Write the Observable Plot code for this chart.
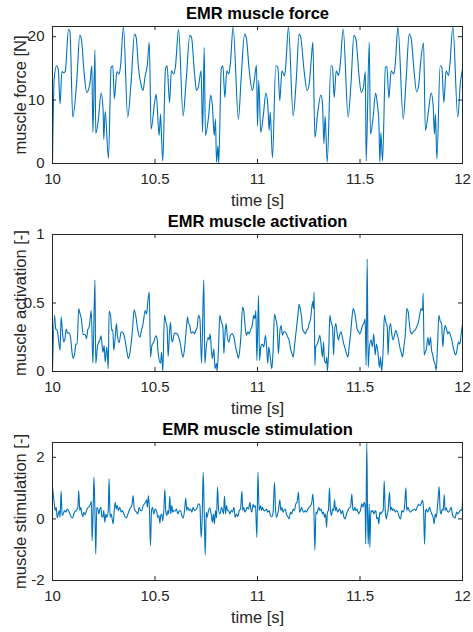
<!DOCTYPE html>
<html>
<head>
<meta charset="utf-8">
<script src="https://cdn.jsdelivr.net/npm/d3@7"></script>
<script src="https://cdn.jsdelivr.net/npm/@observablehq/plot@0.6"></script>
<style>
  body { margin: 0; background: #fff; }
  #chart { width: 473px; }
  #chart svg { display: block; }
</style>
</head>
<body>
<div id="chart"></div>
<script>
// Shared time axis (seconds)
const timeTicks = [10, 10.5, 11, 11.5, 12];
const timeLabel = "time [s]";

// Muscle force [N] — [time, value]
const force = [
  [10.000,0],[10.008,13.3],[10.020,15.4],[10.028,14.9],[10.037,9.4],[10.046,14.5],[10.055,14.3],[10.062,14.5],
  [10.078,21.1],[10.085,20.8],[10.099,7.3],[10.119,13.3],[10.133,20.2],[10.141,19.6],[10.154,14.4],[10.167,11.2],
  [10.182,12.5],[10.192,15.4],[10.197,4.9],[10.207,17.9],[10.211,4.7],[10.224,7.0],[10.237,11.1],[10.247,8.3],
  [10.250,3.8],[10.257,8.2],[10.273,0.8],[10.286,15.2],[10.294,15.4],[10.302,10.2],[10.314,14.5],[10.325,14.1],
  [10.332,15.4],[10.346,21.5],[10.367,7.3],[10.384,13.1],[10.400,20.4],[10.408,19.9],[10.420,14.9],[10.433,12.3],
  [10.441,11.5],[10.452,13.8],[10.462,15.4],[10.472,19.1],[10.481,5.4],[10.498,9.6],[10.506,10.9],[10.520,4.4],
  [10.527,7.8],[10.532,4.1],[10.538,0.4],[10.551,14.9],[10.559,15.4],[10.571,9.6],[10.580,14.6],[10.592,14.1],
  [10.600,15.4],[10.615,21.1],[10.637,7.5],[10.652,13.1],[10.670,20.2],[10.678,19.9],[10.693,14.1],[10.702,11.5],
  [10.711,12.0],[10.725,14.6],[10.732,4.9],[10.740,18.3],[10.746,4.4],[10.761,7.3],[10.772,10.8],[10.780,9.1],
  [10.789,4.4],[10.795,7.0],[10.800,0.2],[10.807,2.8],[10.811,0],[10.823,14.9],[10.831,15.4],[10.841,10.4],
  [10.850,14.6],[10.860,14.1],[10.868,15.9],[10.881,21.5],[10.907,7.0],[10.920,13.3],[10.937,20.4],[10.946,19.7],
  [10.959,14.9],[10.975,11.5],[10.985,13.3],[10.995,15.5],[11.000,5.9],[11.006,13.1],[11.016,4.9],[11.028,7.5],
  [11.041,11.1],[11.050,9.4],[11.057,5.2],[11.062,8.1],[11.073,0.9],[11.089,15.4],[11.099,15.2],[11.109,9.9],
  [11.119,14.6],[11.132,13.8],[11.138,15.5],[11.151,21.5],[11.174,7.5],[11.189,13.1],[11.203,20.4],[11.211,19.9],
  [11.228,14.4],[11.242,11.5],[11.252,12.5],[11.263,16.7],[11.270,19.1],[11.280,4.1],[11.294,8.1],[11.309,10.8],
  [11.317,9.4],[11.324,3.1],[11.330,7.5],[11.340,0.2],[11.358,15.4],[11.366,15.2],[11.374,10.4],[11.384,14.6],
  [11.395,13.9],[11.403,15.4],[11.418,21.2],[11.442,7.3],[11.457,13.1],[11.470,20.2],[11.480,19.6],[11.496,13.6],
  [11.506,11.2],[11.518,12.3],[11.526,14.5],[11.530,0.4],[11.545,19.1],[11.551,4.6],[11.564,7.3],[11.576,11.1],
  [11.584,9.6],[11.592,6.5],[11.597,0.2],[11.602,4.9],[11.610,0.4],[11.624,15.2],[11.631,15.3],[11.641,10.3],
  [11.652,14.6],[11.665,14.1],[11.672,15.7],[11.685,21.5],[11.711,7.0],[11.725,13.3],[11.740,20.4],[11.750,19.6],
  [11.764,14.4],[11.776,11.3],[11.787,12.5],[11.795,15.7],[11.810,19.0],[11.819,5.2],[11.834,8.3],[11.847,11.1],
  [11.857,9.1],[11.863,4.6],[11.868,7.8],[11.875,0.7],[11.891,15.4],[11.899,15.2],[11.909,9.6],[11.920,14.6],
  [11.932,13.9],[11.938,15.4],[11.953,21.6],[11.977,7.3],[11.990,12.8],[12.000,14.9]
];

// Muscle activation [-] — [time, value]
const activation = [
  [10.000,0],[10.010,0.41],[10.016,0.31],[10.023,0.30],[10.033,0.19],[10.037,0.155],[10.042,0.40],[10.049,0.28],
  [10.055,0.215],[10.060,0.23],[10.067,0.31],[10.073,0.28],[10.081,0.28],[10.088,0.25],[10.094,0.155],[10.101,0.095],
  [10.109,0.14],[10.114,0.20],[10.120,0.20],[10.128,0.46],[10.133,0.43],[10.140,0.39],[10.150,0.27],[10.159,0.27],
  [10.166,0.24],[10.172,0.305],[10.179,0.325],[10.189,0.445],[10.197,0.06],[10.207,0.67],[10.211,0.06],[10.220,0.19],
  [10.231,0.23],[10.237,0.26],[10.246,0.14],[10.252,0.19],[10.257,0.07],[10.265,0.18],[10.272,0.02],[10.276,0.44],
  [10.283,0.41],[10.289,0.30],[10.294,0.305],[10.299,0.155],[10.306,0.25],[10.312,0.35],[10.317,0.26],[10.325,0.21],
  [10.335,0.29],[10.345,0.28],[10.354,0.23],[10.364,0.135],[10.371,0.095],[10.379,0.15],[10.390,0.30],[10.398,0.45],
  [10.407,0.40],[10.416,0.30],[10.426,0.25],[10.434,0.30],[10.442,0.35],[10.452,0.445],[10.459,0.42],[10.465,0.51],
  [10.472,0.58],[10.478,0.105],[10.485,0.19],[10.494,0.215],[10.504,0.26],[10.511,0.23],[10.515,0.14],[10.527,0.06],
  [10.532,0.14],[10.538,0.0],[10.546,0.41],[10.553,0.36],[10.559,0.325],[10.564,0.11],[10.571,0.29],[10.576,0.36],
  [10.580,0.25],[10.585,0.215],[10.592,0.265],[10.598,0.28],[10.608,0.275],[10.616,0.25],[10.624,0.20],[10.631,0.135],
  [10.637,0.105],[10.644,0.165],[10.652,0.30],[10.659,0.40],[10.662,0.36],[10.670,0.335],[10.676,0.28],[10.686,0.29],
  [10.693,0.275],[10.699,0.30],[10.706,0.325],[10.712,0.41],[10.719,0.385],[10.727,0.06],[10.738,0.67],[10.743,0.06],
  [10.750,0.18],[10.759,0.25],[10.764,0.23],[10.769,0.275],[10.776,0.14],[10.780,0.095],[10.787,0.165],[10.793,0.02],
  [10.800,0.06],[10.803,0.0],[10.810,0.18],[10.816,0.41],[10.824,0.36],[10.831,0.33],[10.836,0.13],[10.842,0.29],
  [10.847,0.35],[10.852,0.265],[10.860,0.215],[10.868,0.265],[10.876,0.275],[10.885,0.25],[10.893,0.18],[10.901,0.13],
  [10.907,0.095],[10.914,0.165],[10.920,0.28],[10.927,0.47],[10.933,0.445],[10.940,0.325],[10.946,0.265],[10.953,0.29],
  [10.959,0.275],[10.966,0.305],[10.974,0.335],[10.982,0.41],[10.987,0.385],[10.992,0.445],[10.997,0.08],[11.005,0.555],
  [11.010,0.08],[11.016,0.18],[11.024,0.20],[11.031,0.18],[11.039,0.265],[11.046,0.14],[11.050,0.06],[11.055,0.18],
  [11.063,0.095],[11.070,0.02],[11.076,0.155],[11.083,0.42],[11.089,0.385],[11.096,0.33],[11.102,0.13],[11.109,0.29],
  [11.115,0.335],[11.122,0.265],[11.128,0.29],[11.135,0.29],[11.141,0.275],[11.148,0.25],[11.154,0.23],[11.161,0.165],
  [11.168,0.13],[11.174,0.105],[11.180,0.18],[11.189,0.30],[11.197,0.41],[11.203,0.49],[11.210,0.445],[11.215,0.40],
  [11.220,0.31],[11.226,0.29],[11.233,0.275],[11.239,0.30],[11.246,0.31],[11.252,0.35],[11.259,0.385],[11.265,0.47],
  [11.270,0.51],[11.273,0.46],[11.276,0.58],[11.280,0.045],[11.284,0.18],[11.291,0.20],[11.298,0.23],[11.304,0.265],
  [11.311,0.18],[11.317,0.105],[11.322,0.215],[11.327,0.08],[11.333,0.06],[11.338,0.105],[11.341,0.0],[11.348,0.18],
  [11.353,0.41],[11.359,0.36],[11.366,0.325],[11.371,0.12],[11.376,0.29],[11.382,0.35],[11.389,0.275],[11.395,0.23],
  [11.402,0.275],[11.408,0.29],[11.414,0.25],[11.421,0.20],[11.428,0.165],[11.434,0.13],[11.441,0.105],[11.447,0.18],
  [11.454,0.275],[11.462,0.41],[11.467,0.46],[11.473,0.435],[11.480,0.375],[11.486,0.31],[11.493,0.29],[11.499,0.275],
  [11.506,0.30],[11.512,0.335],[11.519,0.35],[11.525,0.385],[11.530,0.045],[11.535,0.82],[11.540,0.03],[11.546,0.18],
  [11.554,0.23],[11.561,0.18],[11.567,0.275],[11.574,0.12],[11.580,0.20],[11.588,0.13],[11.595,0.03],[11.600,0.105],
  [11.606,0.0],[11.613,0.165],[11.619,0.41],[11.626,0.36],[11.633,0.325],[11.637,0.12],[11.642,0.29],[11.649,0.35],
  [11.655,0.275],[11.662,0.23],[11.668,0.265],[11.675,0.30],[11.681,0.275],[11.688,0.23],[11.694,0.18],[11.701,0.14],
  [11.707,0.105],[11.714,0.18],[11.722,0.29],[11.728,0.46],[11.735,0.435],[11.741,0.35],[11.746,0.29],[11.753,0.275],
  [11.759,0.29],[11.766,0.30],[11.772,0.31],[11.779,0.335],[11.785,0.36],[11.792,0.42],[11.798,0.46],[11.805,0.445],
  [11.808,0.57],[11.813,0.12],[11.818,0.14],[11.824,0.165],[11.831,0.25],[11.837,0.19],[11.844,0.25],[11.849,0.155],
  [11.855,0.12],[11.860,0.08],[11.865,0.06],[11.872,0.01],[11.878,0.18],[11.885,0.41],[11.891,0.37],[11.898,0.35],
  [11.904,0.18],[11.909,0.275],[11.915,0.335],[11.922,0.31],[11.928,0.275],[11.935,0.29],[11.941,0.265],[11.948,0.23],
  [11.954,0.18],[11.961,0.14],[11.967,0.12],[11.974,0.165],[11.980,0.215],[11.987,0.20],[11.993,0.265],[12.000,0.35]
];

// Muscle stimulation [-] — [time, value]
const stimulation = [
  [10.000,1.05],[10.008,0.54],[10.013,0.27],[10.018,0.38],[10.023,0.03],[10.028,0.16],[10.033,0.27],[10.037,0.05],
  [10.042,0.90],[10.047,0.11],[10.052,0.16],[10.059,0.27],[10.065,0.22],[10.072,0.32],[10.078,0.27],[10.085,0.16],
  [10.091,0.07],[10.098,0.03],[10.104,0.16],[10.111,0.25],[10.117,0.27],[10.124,0.40],[10.128,0.92],[10.133,0.27],
  [10.138,0.38],[10.143,0.16],[10.148,0.07],[10.153,0.22],[10.159,0.14],[10.166,0.27],[10.172,0.36],[10.179,0.40],
  [10.185,0.47],[10.190,0.57],[10.193,-0.71],[10.198,0.22],[10.202,1.36],[10.207,0.27],[10.211,-1.14],[10.216,0.38],
  [10.221,0.32],[10.226,0.16],[10.231,0.32],[10.236,0.38],[10.241,0.05],[10.246,0.07],[10.250,0.27],[10.255,-0.11],
  [10.260,0.16],[10.265,0.05],[10.272,0.27],[10.276,1.30],[10.281,0.05],[10.286,0.16],[10.291,0.0],[10.296,-0.16],
  [10.301,0.27],[10.306,0.54],[10.311,0.32],[10.315,0.43],[10.322,0.27],[10.328,0.38],[10.335,0.22],[10.341,0.27],
  [10.348,0.16],[10.354,0.07],[10.361,0.03],[10.367,0.14],[10.374,0.27],[10.380,0.36],[10.387,0.43],[10.393,0.76],
  [10.398,0.38],[10.403,0.27],[10.410,0.22],[10.416,0.16],[10.423,0.38],[10.429,0.27],[10.436,0.27],[10.442,0.43],
  [10.449,0.49],[10.454,0.54],[10.459,0.62],[10.463,0.38],[10.468,0.76],[10.473,0.27],[10.478,-0.87],[10.483,0.27],
  [10.488,0.38],[10.494,0.16],[10.501,0.32],[10.507,0.27],[10.514,0.05],[10.519,0.11],[10.524,-0.14],[10.528,0.11],
  [10.533,0.16],[10.538,-0.06],[10.543,0.27],[10.548,0.95],[10.553,0.22],[10.558,0.11],[10.563,0.27],[10.567,0.16],
  [10.572,0.73],[10.577,0.16],[10.582,0.43],[10.587,0.22],[10.592,0.27],[10.598,0.25],[10.605,0.32],[10.611,0.16],
  [10.618,0.25],[10.624,0.27],[10.631,0.11],[10.637,0.03],[10.644,0.27],[10.650,0.68],[10.655,0.27],[10.660,0.38],
  [10.667,0.27],[10.673,0.32],[10.680,0.22],[10.686,0.38],[10.693,0.27],[10.699,0.29],[10.706,0.38],[10.712,0.49],
  [10.719,0.43],[10.725,-0.60],[10.730,0.0],[10.735,1.52],[10.740,0.27],[10.745,-1.16],[10.750,0.22],[10.754,0.05],
  [10.761,0.27],[10.767,0.36],[10.774,0.16],[10.780,-0.11],[10.785,0.16],[10.790,-0.16],[10.795,0.27],[10.800,0.03],
  [10.805,1.03],[10.810,0.32],[10.815,0.16],[10.820,0.22],[10.824,0.38],[10.829,0.29],[10.834,0.16],[10.839,0.73],
  [10.844,0.16],[10.849,0.43],[10.854,0.27],[10.859,0.27],[10.865,0.16],[10.872,0.27],[10.878,0.22],[10.885,0.38],
  [10.891,0.05],[10.898,0.16],[10.904,0.07],[10.911,0.27],[10.917,0.32],[10.924,0.90],[10.928,0.27],[10.933,0.38],
  [10.938,0.22],[10.943,0.27],[10.950,0.38],[10.956,0.32],[10.963,0.54],[10.967,0.32],[10.972,0.22],[10.979,0.47],
  [10.984,0.38],[10.990,0.43],[10.997,-0.60],[11.002,1.52],[11.008,0.27],[11.015,0.43],[11.020,0.27],[11.024,0.38],
  [11.031,0.27],[11.037,0.27],[11.044,0.32],[11.050,0.22],[11.057,0.27],[11.063,0.11],[11.070,0.07],[11.076,0.22],
  [11.083,1.19],[11.088,0.27],[11.093,0.05],[11.098,0.16],[11.102,0.27],[11.109,0.62],[11.114,0.27],[11.119,0.38],
  [11.124,0.22],[11.128,0.27],[11.135,0.32],[11.141,0.16],[11.148,0.07],[11.154,0.0],[11.161,0.22],[11.167,0.16],
  [11.174,0.32],[11.180,0.27],[11.187,0.49],[11.193,0.54],[11.200,0.87],[11.205,0.22],[11.210,0.27],[11.215,0.38],
  [11.220,0.27],[11.226,0.22],[11.233,0.27],[11.239,0.22],[11.246,0.32],[11.252,0.38],[11.259,0.43],[11.265,0.54],
  [11.270,0.81],[11.275,0.27],[11.280,-1.01],[11.285,0.22],[11.289,0.16],[11.294,0.27],[11.299,0.38],[11.304,0.27],
  [11.311,0.32],[11.317,0.16],[11.322,0.22],[11.327,0.05],[11.332,0.16],[11.337,-0.27],[11.341,0.22],[11.346,0.27],
  [11.351,1.01],[11.356,0.27],[11.361,0.11],[11.366,0.32],[11.371,0.27],[11.376,0.62],[11.380,0.27],[11.385,0.38],
  [11.390,0.22],[11.395,0.27],[11.402,0.32],[11.408,0.16],[11.415,0.27],[11.421,0.07],[11.428,0.0],[11.434,0.16],
  [11.441,0.27],[11.447,0.36],[11.454,0.38],[11.460,0.81],[11.465,0.32],[11.470,0.27],[11.475,0.38],[11.480,0.27],
  [11.486,0.32],[11.493,0.16],[11.498,0.22],[11.502,0.27],[11.509,0.49],[11.515,0.38],[11.520,0.54],[11.525,0.43],
  [11.528,-0.82],[11.533,2.46],[11.537,0.05],[11.540,-0.82],[11.545,0.49],[11.548,-0.92],[11.553,0.27],[11.558,0.22],
  [11.563,0.27],[11.567,0.16],[11.572,0.22],[11.577,0.27],[11.582,0.0],[11.587,0.05],[11.592,-0.16],[11.597,0.22],
  [11.602,0.16],[11.607,0.22],[11.613,0.27],[11.618,1.23],[11.623,0.27],[11.628,0.0],[11.633,0.16],[11.637,0.27],
  [11.644,0.87],[11.649,0.27],[11.654,0.38],[11.659,0.27],[11.665,0.32],[11.672,0.22],[11.678,0.27],[11.685,0.22],
  [11.691,0.07],[11.698,0.0],[11.704,0.27],[11.711,0.22],[11.717,0.38],[11.724,1.01],[11.728,0.27],[11.733,0.38],
  [11.740,0.27],[11.746,0.22],[11.753,0.27],[11.759,0.29],[11.766,0.32],[11.772,0.27],[11.779,0.38],[11.785,0.47],
  [11.792,0.43],[11.798,0.49],[11.805,0.60],[11.810,0.32],[11.815,-0.82],[11.820,0.27],[11.824,0.32],[11.829,0.22],
  [11.834,0.27],[11.839,0.38],[11.844,0.27],[11.850,0.16],[11.857,0.05],[11.862,-0.16],[11.867,0.16],[11.872,0.05],
  [11.876,0.27],[11.881,0.65],[11.886,1.05],[11.891,0.27],[11.896,0.16],[11.901,0.32],[11.906,0.27],[11.911,0.79],
  [11.915,0.27],[11.920,0.36],[11.925,0.27],[11.932,0.22],[11.938,0.27],[11.945,0.38],[11.951,0.14],[11.958,0.05],
  [11.964,0.03],[11.971,0.22],[11.977,0.16],[11.984,0.22],[11.990,0.29],[11.997,0.27],[12.000,0.60]
];

// Per-panel titles, axis labels, y ranges and y ticks
const titles = ["EMR muscle force", "EMR muscle activation", "EMR muscle stimulation"];
const yLabels = ["muscle force [N]", "muscle activation [-]", "muscle stimulation [-]"];
const yDomains = [[0, 21.6], [0, 1], [-2, 2.48]];
const yTickValues = [[0, 10, 20], [0, 0.5, 1], [-2, 0, 2]];
const series = [force, activation, stimulation];

const W = 473, H = 210, ML = 52, MR = 11;
const margins = [[26, 47], [24, 49], [22, 50]];
const axisColor = "#262626";
const lineColor = "#0072BD";
const font = "'Liberation Sans', Arial, Helvetica, sans-serif";

function panel(i) {
  const [mt, mb] = margins[i];
  const innerH = H - mt - mb;
  const innerW = W - ML - MR;
  const fmt = d => String(d);
  return Plot.plot({
    width: W, height: H,
    marginLeft: ML, marginRight: MR, marginTop: mt, marginBottom: mb,
    style: {fontFamily: font, background: "#fff", overflow: "visible"},
    x: {domain: [10, 12]},
    y: {domain: yDomains[i]},
    marks: [
      Plot.line(series[i], {x: d => d[0], y: d => d[1], stroke: lineColor, strokeWidth: 1.1, curve: "monotone-x", clip: true}),
      // inward ticks on all four sides (box on)
      Plot.tickX(timeTicks, {x: d => d, stroke: axisColor, insetTop: innerH - 4}),
      Plot.tickX(timeTicks, {x: d => d, stroke: axisColor, insetBottom: innerH - 4}),
      Plot.tickY(yTickValues[i], {y: d => d, stroke: axisColor, insetRight: innerW - 4}),
      Plot.tickY(yTickValues[i], {y: d => d, stroke: axisColor, insetLeft: innerW - 4}),
      Plot.frame({stroke: axisColor, strokeWidth: 1}),
      Plot.axisX(timeTicks, {tickSize: 0, tickPadding: 10, fontSize: 15, fill: axisColor, tickFormat: fmt, label: null}),
      Plot.axisY(yTickValues[i], {tickSize: 0, tickPadding: 8, fontSize: 15, fill: axisColor, tickFormat: fmt, label: null}),
      Plot.text([titles[i]], {text: d => d, frameAnchor: "top", lineAnchor: "middle", textAnchor: "middle", dy: -12.5, fontWeight: "bold", fontSize: 16.5, fill: "#000"}),
      Plot.text([timeLabel], {text: d => d, frameAnchor: "bottom", lineAnchor: "middle", textAnchor: "middle", dy: 37, fontSize: 16.5, fill: axisColor}),
      Plot.text([yLabels[i]], {text: d => d, frameAnchor: "left", lineAnchor: "middle", textAnchor: "middle", dx: -32, rotate: -90, fontSize: 16.5, fill: axisColor})
    ]
  });
}

const root = document.getElementById("chart");
for (let i = 0; i < 3; i++) root.appendChild(panel(i));
</script>
</body>
</html>
